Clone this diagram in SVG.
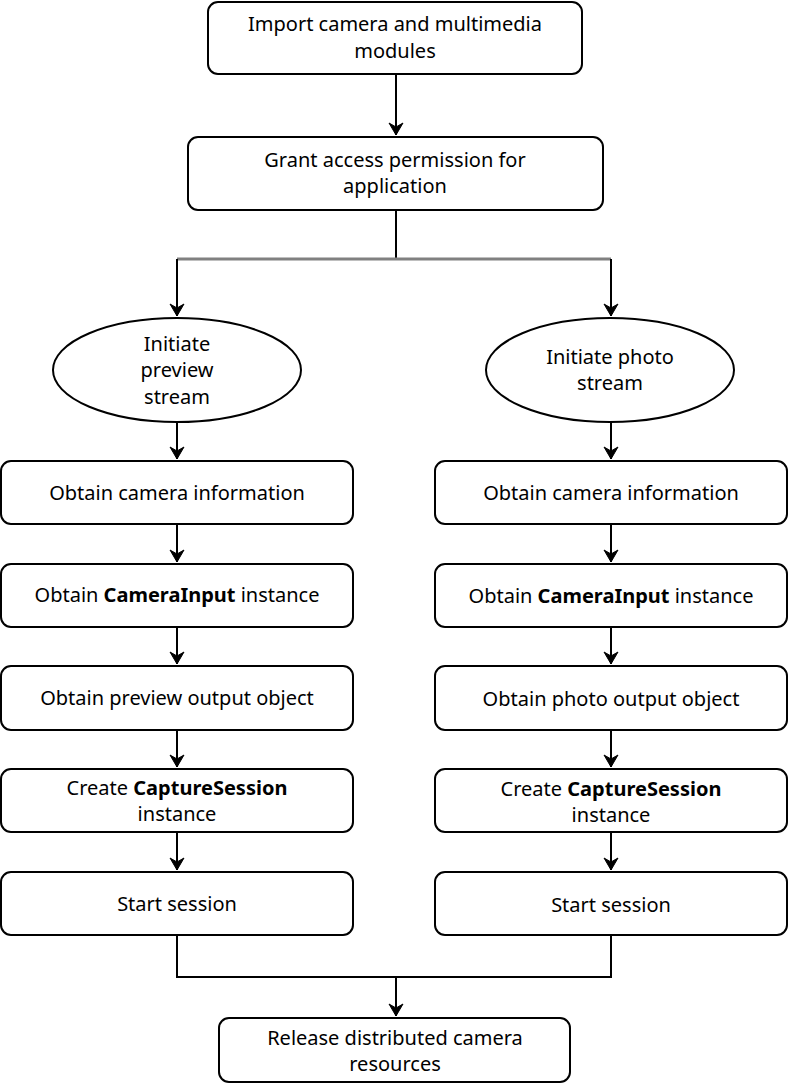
<svg xmlns="http://www.w3.org/2000/svg" width="789" height="1085" viewBox="0 0 789 1085">
<style>
.n{fill:#fff;stroke:#000;stroke-width:2}
text{font-family:"Noto Sans","Liberation Sans",sans-serif;font-size:20px;fill:#000;text-anchor:middle}
.b{font-weight:bold}
.c{fill:none;stroke:#000;stroke-width:2}
</style>
<defs><marker id="d" markerWidth="16" markerHeight="14" refX="8" refY="13" orient="0" markerUnits="userSpaceOnUse" viewBox="0 0 16 14"><path d="M1,1 L8,5 L15,1 L8,13Z" fill="#000" stroke="#000" stroke-width="1"/></marker></defs>
<g id="connectors">
<path class="c" d="M396,74 V135" marker-end="url(#d)"/>
<path class="c" d="M396,210 V259"/>
<path d="M177,259 H611" stroke="#808080" stroke-width="3"/>
<path class="c" d="M177,259 V316" marker-end="url(#d)"/>
<path class="c" d="M611,259 V316" marker-end="url(#d)"/>
<path class="c" d="M177,423 V459" marker-end="url(#d)"/>
<path class="c" d="M611,423 V459" marker-end="url(#d)"/>
<path class="c" d="M177,524 V562" marker-end="url(#d)"/>
<path class="c" d="M611,524 V562" marker-end="url(#d)"/>
<path class="c" d="M177,627 V664" marker-end="url(#d)"/>
<path class="c" d="M611,627 V664" marker-end="url(#d)"/>
<path class="c" d="M177,730 V767" marker-end="url(#d)"/>
<path class="c" d="M611,730 V767" marker-end="url(#d)"/>
<path class="c" d="M177,832 V870" marker-end="url(#d)"/>
<path class="c" d="M611,832 V870" marker-end="url(#d)"/>
<path class="c" d="M177,935 V977 H611 V935"/>
<path class="c" d="M396,977 V1016" marker-end="url(#d)"/>
</g>
<g id="n1"><rect class="n" x="208" y="2" width="374" height="72" rx="10"/><text x="395" y="31">Import camera and multimedia</text><text x="395" y="58">modules</text></g>
<g id="n2"><rect class="n" x="188" y="137" width="415" height="73" rx="10"/><text x="395" y="167">Grant access permission for</text><text x="395" y="193">application</text></g>
<g id="e1"><ellipse class="n" cx="177" cy="370" rx="124" ry="52"/><text x="177" y="351">Initiate</text><text x="177" y="377">preview</text><text x="177" y="404">stream</text></g>
<g id="e2"><ellipse class="n" cx="610" cy="370" rx="124" ry="52"/><text x="610" y="364">Initiate photo</text><text x="610" y="390">stream</text></g>
<g id="l1"><rect class="n" x="1" y="461" width="352" height="63" rx="10"/><text x="177" y="500">Obtain camera information</text></g>
<g id="r1"><rect class="n" x="435" y="461" width="352" height="63" rx="10"/><text x="611" y="500">Obtain camera information</text></g>
<g id="l2"><rect class="n" x="1" y="564" width="352" height="63" rx="10"/><text x="177" y="602">Obtain <tspan class="b">CameraInput</tspan> instance</text></g>
<g id="r2"><rect class="n" x="435" y="564" width="352" height="63" rx="10"/><text x="611" y="603">Obtain <tspan class="b">CameraInput</tspan> instance</text></g>
<g id="l3"><rect class="n" x="1" y="666" width="352" height="64" rx="10"/><text x="177" y="705">Obtain preview output object</text></g>
<g id="r3"><rect class="n" x="435" y="666" width="352" height="64" rx="10"/><text x="611" y="706">Obtain photo output object</text></g>
<g id="l4"><rect class="n" x="1" y="769" width="352" height="63" rx="10"/><text x="177" y="795">Create <tspan class="b">CaptureSession</tspan></text><text x="177" y="821">instance</text></g>
<g id="r4"><rect class="n" x="435" y="769" width="352" height="63" rx="10"/><text x="611" y="796">Create <tspan class="b">CaptureSession</tspan></text><text x="611" y="822">instance</text></g>
<g id="l5"><rect class="n" x="1" y="872" width="352" height="63" rx="10"/><text x="177" y="911">Start session</text></g>
<g id="r5"><rect class="n" x="435" y="872" width="352" height="63" rx="10"/><text x="611" y="912">Start session</text></g>
<g id="n3"><rect class="n" x="219" y="1018" width="351" height="64" rx="10"/><text x="395" y="1045">Release distributed camera</text><text x="395" y="1071">resources</text></g>
</svg>
